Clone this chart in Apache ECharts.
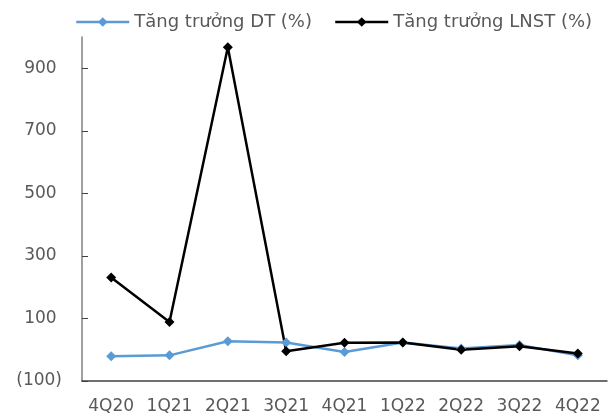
<!DOCTYPE html>
<html>
<head>
<meta charset="utf-8">
<script src="https://cdn.jsdelivr.net/npm/echarts@6/dist/echarts.min.js"></script>
<style>
html, body { margin: 0; padding: 0; background: #fff; }
#chart { width: 609px; height: 417px; }
</style>
</head>
<body>
<div id="chart"></div>
<script>
var quarters = ['4Q20', '1Q21', '2Q21', '3Q21', '4Q21', '1Q22', '2Q22', '3Q22', '4Q22'];
var revenueGrowth = [-21, -18, 27, 23, -7, 23, 4, 15, -18];
var profitGrowth = [231, 89, 967, -5, 22, 23, 0, 11, -12];
var yTicks = [-100, 100, 300, 500, 700, 900];

var chart = echarts.init(document.getElementById('chart'));

var font = 'DejaVu Sans';
var textColor = '#595959';

option = {
	animation: false,
	legend: {
		top: 8,
		left: 70,
		itemWidth: 53,
		itemHeight: 12,
		itemGap: 22,
		lineStyle: { width: 2.5 },
		textStyle: { fontFamily: font, fontSize: 18, color: textColor },
		data: ['Tăng trưởng DT (%)', 'Tăng trưởng LNST (%)']
	},
	grid: {
		left: 82,
		right: 2,
		top: 37,
		bottom: 36,
		containLabel: false
	},
	xAxis: {
		type: 'category',
		data: quarters,
		axisLine: { onZero: false, lineStyle: { color: '#404040', width: 1.5 } },
		axisTick: { inside: true, length: 6, lineStyle: { color: '#404040' } },
		axisLabel: { interval: 0, margin: 17, fontFamily: font, fontSize: 17, color: textColor }
	},
	yAxis: {
		type: 'value',
		min: -100,
		max: 1000,
		splitLine: { show: false },
		axisLine: { show: true, lineStyle: { color: '#808080', width: 1.5 } },
		axisTick: { show: true, inside: true, length: 6, customValues: yTicks, lineStyle: { color: '#404040' } },
		axisLabel: {
			customValues: yTicks,
			margin: 20,
			fontFamily: font,
			fontSize: 17,
			color: textColor,
			formatter: function (v) {
				return v < 0 ? '(' + Math.abs(v) + ')' : v + ' ';
			}
		}
	},
	series: [
		{
			name: 'Tăng trưởng DT (%)',
			type: 'line',
			data: revenueGrowth,
			symbol: 'diamond',
			symbolSize: 10,
			lineStyle: { color: '#5B9BD5', width: 2.5 },
			itemStyle: { color: '#5B9BD5' }
		},
		{
			name: 'Tăng trưởng LNST (%)',
			type: 'line',
			data: profitGrowth,
			symbol: 'diamond',
			symbolSize: 10,
			lineStyle: { color: '#000000', width: 2.5 },
			itemStyle: { color: '#000000' }
		}
	]
};

chart.setOption(option);
</script>
</body>
</html>
